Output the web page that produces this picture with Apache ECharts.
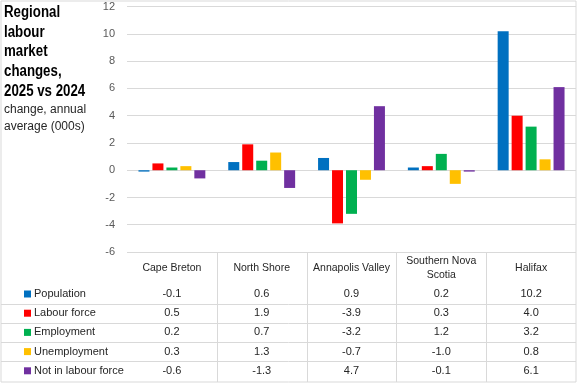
<!DOCTYPE html>
<html>
<head>
<meta charset="utf-8">
<script src="https://cdn.jsdelivr.net/npm/echarts@6/dist/echarts.min.js"></script>
<style>
html,body{margin:0;padding:0;background:#fff;}
#chart{width:577px;height:384px;}
</style>
</head>
<body>
<div id="chart"></div>
<script>
// ---- data ----
const categories = ['Cape Breton', 'North Shore', 'Annapolis Valley', 'Southern Nova\nScotia', 'Halifax'];
const seriesNames = ['Population', 'Labour force', 'Employment', 'Unemployment', 'Not in labour force'];
const population = [-0.1, 0.6, 0.9, 0.2, 10.2];
const labourForce = [0.5, 1.9, -3.9, 0.3, 4.0];
const employment = [0.2, 0.7, -3.2, 1.2, 3.2];
const unemployment = [0.3, 1.3, -0.7, -1.0, 0.8];
const notInLabourForce = [-0.6, -1.3, 4.7, -0.1, 6.1];
const yTicks = [-6, -4, -2, 0, 2, 4, 6, 8, 10, 12];
const titleText = 'Regional\nlabour\nmarket\nchanges,\n2025 vs 2024';
const subtitleText = 'change, annual\naverage (000s)';

const seriesData = [population, labourForce, employment, unemployment, notInLabourForce];
const colors = ['#0070C0', '#FF0000', '#00B050', '#FFC000', '#7030A0'];

// ---- layout constants ----
const W = 577, H = 384;
const gridLeft = 127, gridRight = 576, gridTop = 6.7, gridBottom = 252;
const rowCenters = [294, 313.3, 332.3, 351.5, 370.5];
const rowLines = [303.5, 322.8, 342, 361.3];
const tableBottom = 382;
const lineColor = '#D9D9D9';
const font = '"Liberation Sans", Arial, sans-serif';

const chart = echarts.init(document.getElementById('chart'), null, {renderer: 'canvas'});

const xAxes = [{
  type: 'category',
  data: categories,
  gridIndex: 0,
  position: 'bottom',
  axisLine: {show: false},
  axisTick: {show: false},
  axisLabel: {
    margin: 16, verticalAlign: 'middle', fontSize: 10.5, lineHeight: 14,
    color: '#262626', fontFamily: font, interval: 0
  }
}];
seriesData.forEach((arr, r) => {
  xAxes.push({
    type: 'category',
    data: arr.map(v => v.toFixed(1)),
    gridIndex: 0,
    position: 'bottom',
    offset: rowCenters[r] - gridBottom,
    axisLine: {show: false},
    axisTick: {show: false},
    axisLabel: {
      margin: 0, verticalAlign: 'middle', fontSize: 11,
      color: '#262626', fontFamily: font, interval: 0
    }
  });
});

const graphics = [];
// outer border
graphics.push({type: 'rect', shape: {x: 1, y: 1, width: W - 2, height: tableBottom - 1},
  style: {fill: 'none', stroke: lineColor, lineWidth: 1}, silent: true, z: 0});
// title (condensed bold) and subtitle
graphics.push({type: 'text', x: 4, y: 3, scaleX: 0.83, silent: true,
  style: {text: titleText, fontFamily: font, fontWeight: 'bold', fontSize: 16, lineHeight: 19.6,
    fill: '#000', verticalAlign: 'top', align: 'left'}});
graphics.push({type: 'text', x: 4, y: 101, silent: true,
  style: {text: subtitleText, fontFamily: font, fontSize: 12, lineHeight: 17,
    fill: '#262626', verticalAlign: 'top', align: 'left'}});
// column separators in table
const colW = (gridRight - gridLeft) / categories.length;
for (let i = 1; i < categories.length; i++) {
  const x = Math.round(gridLeft + i * colW) + 0.5;
  graphics.push({type: 'line', shape: {x1: x, y1: gridBottom, x2: x, y2: tableBottom},
    style: {stroke: lineColor, lineWidth: 1}, silent: true});
}
// row separators
rowLines.forEach(y => {
  const yy = Math.round(y) + 0.5;
  graphics.push({type: 'line', shape: {x1: 1, y1: yy, x2: gridRight, y2: yy},
    style: {stroke: lineColor, lineWidth: 1}, silent: true});
});

const option = {
  backgroundColor: '#fff',
  animation: false,
  color: colors,
  legend: {
    data: seriesNames,
    orient: 'vertical',
    left: 24, top: rowCenters[0] - 9.6,
    itemWidth: 7, itemHeight: 7, itemGap: 0,
    icon: 'rect',
    padding: 0,
    textStyle: {fontSize: 11, lineHeight: 19.2, color: '#262626', fontFamily: font, padding: [0, 0, 0, -2]}
  },
  grid: {left: gridLeft, right: W - gridRight, top: gridTop, bottom: H - gridBottom, containLabel: false},
  xAxis: xAxes,
  yAxis: {
    type: 'value', min: yTicks[0], max: yTicks[yTicks.length - 1], interval: 2,
    axisLine: {show: false}, axisTick: {show: false},
    splitLine: {lineStyle: {color: lineColor, width: 1}},
    axisLabel: {fontSize: 11, color: '#595959', margin: 12, fontFamily: font}
  },
  series: seriesData.map((arr, i) => ({
    name: seriesNames[i],
    type: 'bar',
    xAxisIndex: 0,
    data: arr,
    barWidth: 11,
    barGap: '27%',
    itemStyle: {color: colors[i]}
  })),
  graphic: graphics
};
chart.setOption(option);
</script>
</body>
</html>
